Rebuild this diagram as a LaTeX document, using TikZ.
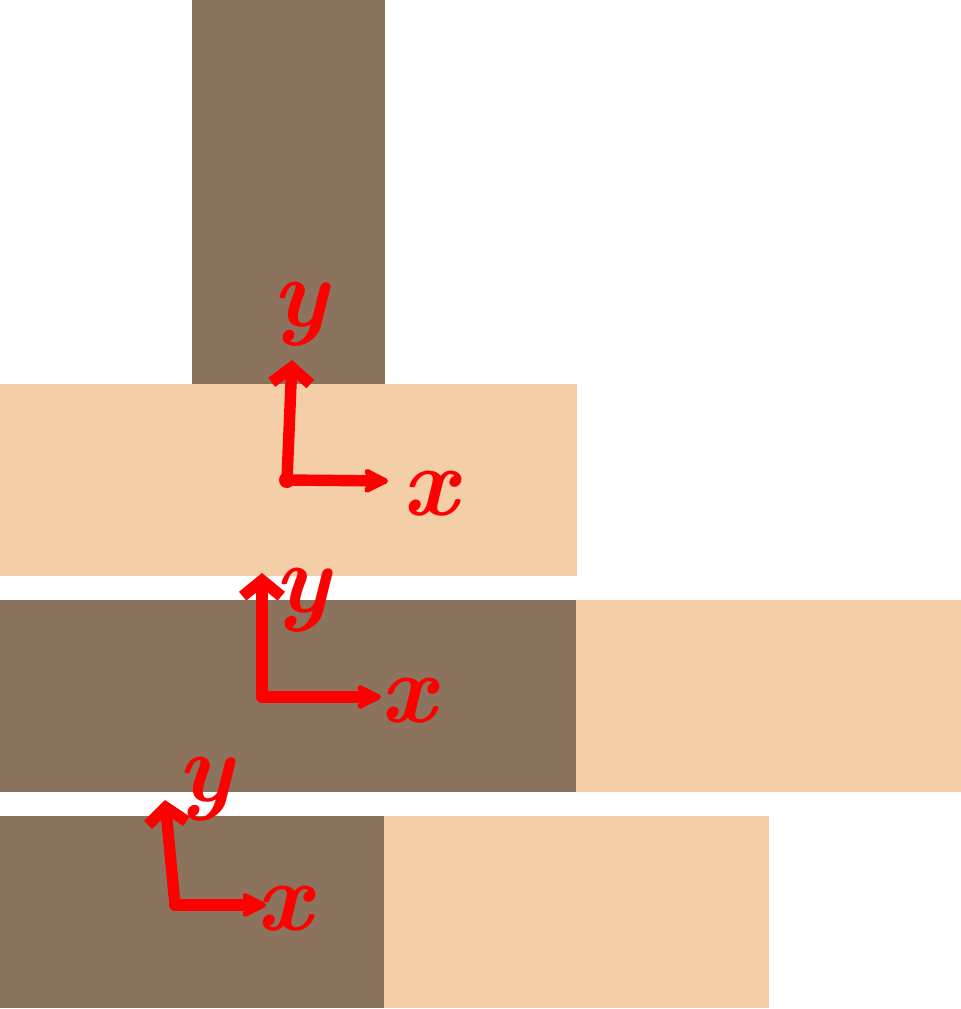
\documentclass[tikz,border=0pt]{standalone}
\usetikzlibrary{arrows.meta}
\definecolor{bark}{RGB}{139,115,93}
\definecolor{skin}{RGB}{244,206,166}
\definecolor{pen}{RGB}{255,0,0}

\begin{document}
\begin{tikzpicture}[
  x=0.02cm, y=-0.02cm,
  hard/.style={fill=bark, draw=none},
  soft/.style={fill=skin, draw=none},
  axis/.style={draw=pen, line width=6.5pt, line cap=round, line join=round},
  yaxis/.style={axis, -{Straight Barb[length=9pt,width=22pt]}},
  xaxis/.style={axis, -{Stealth[length=18pt,width=18pt,round]}},
  lbl/.style={text=pen, inner sep=0pt, font=\fontsize{56}{56}\selectfont\bfseries\itshape}
]
\useasboundingbox (0,0) rectangle (961,1009);

% top: post on a slab
\fill[hard] (192,0) rectangle (385,384);
\fill[soft] (0,384) rectangle (577,576);

% middle row
\fill[hard] (0,600) rectangle (576,792);
\fill[soft] (576,600) rectangle (961,792);

% bottom row
\fill[hard] (0,816) rectangle (384,1008);
\fill[soft] (384,816) rectangle (769,1008);

% frame 1
\coordinate (o1) at (287,480);
\coordinate (y1) at (292,360);
\coordinate (x1) at (388,481);
\fill[pen] (o1) circle (8);
\draw[yaxis] (o1) -- (y1);
\draw[xaxis] (o1) -- (x1);
\node[lbl] (ly1) at (300,314) {y};
\node[lbl] (lx1) at (430,494) {x};

% frame 2
\coordinate (o2) at (262,697);
\coordinate (y2) at (262,573);
\coordinate (x2) at (381,697);
\draw[yaxis] (o2) -- (y2);
\draw[xaxis] (o2) -- (x2);
\node[lbl] (ly2) at (302,600) {y};
\node[lbl] (lx2) at (408,701) {x};

% frame 3
\coordinate (o3) at (175,905);
\coordinate (y3) at (165,800);
\coordinate (x3) at (266,905);
\draw[yaxis] (o3) -- (y3);
\draw[xaxis] (o3) -- (x3);
\node[lbl] (ly3) at (205,789) {y};
\node[lbl] (lx3) at (284,909) {x};
\end{tikzpicture}
\end{document}
